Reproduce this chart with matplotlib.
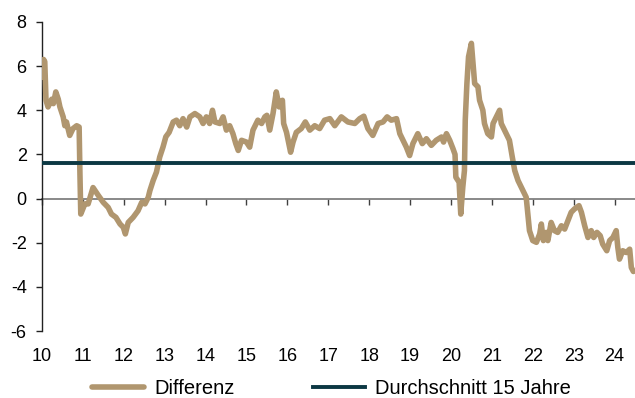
import matplotlib
matplotlib.use("Agg")
import matplotlib.pyplot as plt

plt.rcParams["font.family"] = ["Liberation Sans", "DejaVu Sans"]
plt.rcParams["axes.unicode_minus"] = False

# Differenz (Jahr als Dezimalzahl ab 2000, Wert in Prozentpunkten)
years = [
    10.01, 10.04, 10.07, 10.10, 10.15, 10.24, 10.28, 10.34, 10.40, 10.44,
    10.52, 10.56, 10.60, 10.68, 10.76, 10.85, 10.91, 10.93, 10.95, 11.05,
    11.13, 11.25, 11.38, 11.50, 11.62, 11.70, 11.81, 11.91, 11.99, 12.04,
    12.11, 12.23, 12.35, 12.44, 12.52, 12.60, 12.64, 12.72, 12.80, 12.88,
    12.96, 13.03, 13.11, 13.21, 13.29, 13.37, 13.45, 13.54, 13.62, 13.74,
    13.86, 13.94, 14.02, 14.10, 14.17, 14.23, 14.35, 14.43, 14.51, 14.59,
    14.67, 14.74, 14.80, 14.88, 15.00, 15.08, 15.16, 15.28, 15.37, 15.45,
    15.50, 15.57, 15.65, 15.73, 15.80, 15.88, 15.91, 15.98, 16.08, 16.14,
    16.22, 16.34, 16.44, 16.55, 16.67, 16.79, 16.91, 17.04, 17.16, 17.32,
    17.48, 17.65, 17.77, 17.87, 17.97, 18.09, 18.22, 18.34, 18.44, 18.54,
    18.67, 18.75, 18.83, 18.91, 18.99, 19.07, 19.19, 19.30, 19.40, 19.52,
    19.64, 19.77, 19.82, 19.89, 19.97, 20.05, 20.10, 20.12, 20.20, 20.24,
    20.29, 20.33, 20.35, 20.39, 20.43, 20.50, 20.54, 20.58, 20.66, 20.70,
    20.78, 20.82, 20.90, 20.99, 21.03, 21.11, 21.19, 21.23, 21.29, 21.37,
    21.43, 21.50, 21.56, 21.64, 21.76, 21.84, 21.88, 21.92, 22.00, 22.09,
    22.17, 22.21, 22.26, 22.33, 22.37, 22.45, 22.53, 22.61, 22.70, 22.78,
    22.86, 22.94, 23.02, 23.13, 23.19, 23.27, 23.35, 23.43, 23.49, 23.57,
    23.65, 23.71, 23.81, 23.88, 23.96, 24.04, 24.08, 24.12, 24.20, 24.29,
    24.37, 24.41, 24.46,
]
differenz = [
    5.5, 6.3, 6.2, 4.45, 4.15, 4.5, 4.3, 4.83, 4.5, 4.15,
    3.7, 3.3, 3.47, 2.86, 3.17, 3.3, 3.24, 1.1, -0.7, -0.24,
    -0.24, 0.5, 0.14, -0.17, -0.4, -0.7, -0.85, -1.15, -1.3, -1.6,
    -1.08, -0.85, -0.55, -0.17, -0.24, 0.06, 0.36, 0.82, 1.2, 1.88,
    2.33, 2.8, 3.0, 3.47, 3.55, 3.3, 3.62, 3.24, 3.7, 3.85,
    3.7, 3.4, 3.7, 3.4, 4.0, 3.47, 3.4, 3.7, 3.1, 3.3,
    2.94, 2.49, 2.18, 2.64, 2.56, 2.33, 3.1, 3.55, 3.4, 3.7,
    3.77, 3.1, 3.85, 4.83, 4.15, 4.45, 3.4, 3.0, 2.1, 2.56,
    3.0, 3.17, 3.47, 3.1, 3.3, 3.17, 3.55, 3.62, 3.3, 3.7,
    3.47, 3.4, 3.62, 3.73, 3.17, 2.86, 3.4, 3.47, 3.7, 3.55,
    3.62, 2.94, 2.64, 2.33, 1.95, 2.49, 2.94, 2.49, 2.71, 2.41,
    2.64, 2.79, 2.56, 2.94, 2.64, 2.26, 2.0, 0.97, 0.74, -0.7,
    0.52, 1.27, 3.55, 5.2, 6.42, 7.03, 6.12, 5.21, 5.06, 4.45,
    4.0, 3.4, 2.94, 2.79, 3.4, 3.7, 4.0, 3.4, 3.17, 2.86,
    2.64, 1.88, 1.27, 0.82, 0.36, 0.06, -0.7, -1.45, -1.9, -1.98,
    -1.6, -1.15, -1.9, -1.53, -1.9, -1.08, -1.45, -1.53, -1.23, -1.38,
    -1.0, -0.62, -0.47, -0.32, -0.62, -1.23, -1.76, -1.45, -1.76, -1.53,
    -1.68, -2.06, -2.36, -1.9, -1.76, -1.45, -2.21, -2.74, -2.36, -2.44,
    -2.29, -3.12, -3.3,
]
durchschnitt = 1.6

year_ticks = list(range(10, 25))
value_ticks = [-6, -4, -2, 0, 2, 4, 6, 8]

TAN = "#b0966f"
TEAL = "#0c3843"

fig = plt.figure(figsize=(6.35, 3.98), dpi=100)
ax = fig.add_axes([0.066, 0.168, 0.934, 0.777])

ax.plot(years, differenz, color=TAN, lw=4.0, solid_joinstyle="round",
        solid_capstyle="round", label="Differenz", zorder=3)
ax.axhline(durchschnitt, color=TEAL, lw=2.8, label="Durchschnitt 15 Jahre",
           zorder=4)

ax.set_xlim(10, 24.5)
ax.set_ylim(-6, 8)
ax.set_yticks(value_ticks)
ax.set_xticks(year_ticks)
ax.set_xticklabels([str(y) for y in year_ticks])

for side in ["top", "right", "bottom"]:
    ax.spines[side].set_visible(False)
ax.spines["left"].set_color("#222222")
ax.spines["left"].set_linewidth(1.0)

ax.tick_params(axis="y", direction="out", length=4, width=1.0,
               color="#222222", labelsize=13, pad=7)
ax.tick_params(axis="x", length=0, labelsize=13, pad=12)

# Nulllinie mit Jahresmarken
zero_axis = ax.secondary_xaxis(6 / 14)
zero_axis.set_xticks(year_ticks)
zero_axis.spines["bottom"].set_color("#808080")
zero_axis.spines["bottom"].set_linewidth(1.3)
zero_axis.tick_params(axis="x", direction="out", length=4.5, width=1.0,
                      color="#404040", labelbottom=False)

fig.legend(loc="center", bbox_to_anchor=(0.522, 0.025), ncol=2,
           frameon=False, fontsize=14.5, handlelength=2.6, columnspacing=3.9,
           handletextpad=0.5, borderaxespad=0, borderpad=0)

fig.savefig("out.png", dpi=100)
